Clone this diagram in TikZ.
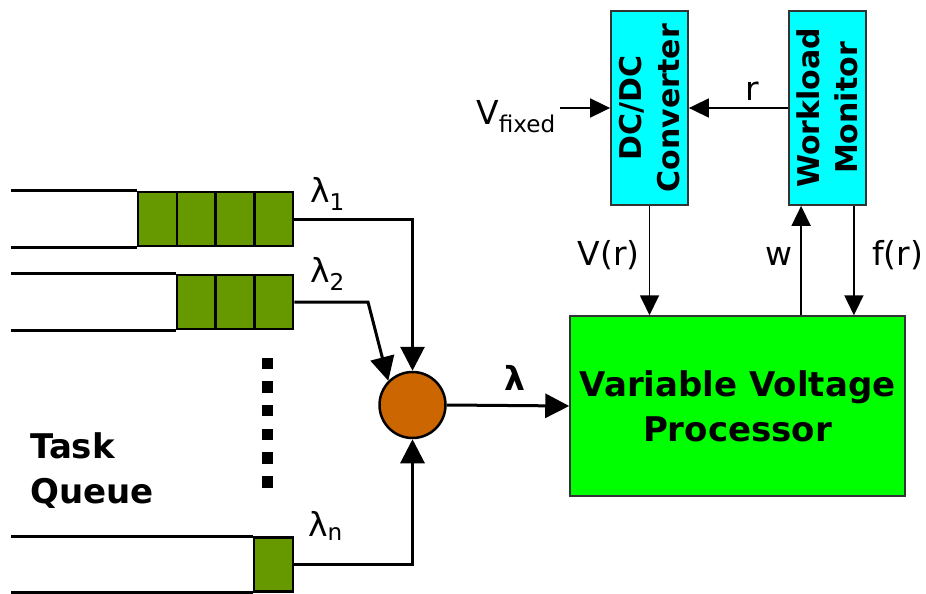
\documentclass[tikz,border=0pt]{standalone}
\usepackage{fontspec}
\setmainfont{DejaVu Sans}
\usepackage{tikz}
\usetikzlibrary{arrows.meta, positioning, calc}
\definecolor{cellgreen}{RGB}{102,153,0}
\definecolor{muxorange}{RGB}{204,102,0}
\definecolor{procgreen}{RGB}{0,255,0}
\definecolor{boxcyan}{RGB}{0,255,255}

\begin{document}
\begin{tikzpicture}[x=1pt, y=-1pt,
  cell/.style={draw, line width=2.5pt, fill=cellgreen, minimum width=38.75pt, minimum height=54pt, inner sep=0pt},
  rail/.style={line width=3pt},
  feed/.style={line width=3pt, -{Triangle[length=24pt, width=24pt]}},
  ctrl/.style={line width=1.8pt, -{Triangle[length=20pt, width=19pt]}},
  unit/.style={draw=black!80, line width=1.8pt, fill=boxcyan, minimum width=77pt, minimum height=194pt, inner sep=0pt},
  unittext/.style={rotate=90, align=center, font=\fontsize{30}{38}\selectfont\bfseries},
  lbl/.style={font=\fontsize{33}{36}\selectfont, inner sep=0pt}]
  \useasboundingbox (0,0) rectangle (926,594);

  % task queues
  \foreach \i in {1,...,4}
    \node[cell] (q1c\i) at (157.4+38.75*\i-38.75, 219) {};
  \foreach \i in {1,...,3}
    \node[cell] (q2c\i) at (196.2+38.75*\i-38.75, 302) {};
  \node[cell] (qnc1) at (273.6, 564.5) {};

  \draw[rail] (q1c1.north west) -- ++(-126,0);
  \draw[rail] (q1c1.south west) -- ++(-126,0);
  \draw[rail] (q2c1.north west) -- ++(-165,0);
  \draw[rail] (q2c1.south west) -- ++(-165,0);
  \draw[rail] (qnc1.north west) -- ++(-242,0);
  \draw[rail] (qnc1.south west) -- ++(-242,0);

  \foreach \k in {0,...,5}
    \fill (261.5,357.5+23.7*\k) rectangle ++(11.5,11.5);

  \node[font=\fontsize{34}{45}\selectfont\bfseries, align=left, anchor=base west, inner sep=0pt] (tq) at (30,503) {Task\\Queue};

  % dispatcher
  \node[circle, draw, line width=2.5pt, fill=muxorange, minimum size=66pt, inner sep=0pt] (mux) at (412.5,405) {};
  \coordinate (bend2) at (368,302);

  \draw[feed] (q1c4.east) -| (mux.north);
  \draw[feed] (q2c3.east) -- (bend2) -- (mux.north west);
  \draw[feed] (qnc1.east) -| (mux.south);
  \node[lbl, anchor=base west] (lam1) at (310,202) {λ\textsubscript{1}};
  \node[lbl, anchor=base west] (lam2) at (310,282) {λ\textsubscript{2}};
  \node[lbl, anchor=base west] (lamn) at (308,536) {λ\textsubscript{n}};

  % processor and control loop
  \node[draw=black!80, line width=1.5pt, fill=procgreen, minimum width=335pt, minimum height=180pt, align=center,
        font=\fontsize{34}{45}\selectfont\bfseries] (vvp) at (737.5,406) {Variable Voltage\\Processor};
  \draw[feed] (mux.east) -- (vvp.west);
  \node[lbl, anchor=base, font=\fontsize{33}{36}\selectfont\bfseries] (lam) at (515,390) {λ};

  \node[unit] (dcdc) at (649.5,108) {};
  \node[unittext] at (dcdc.center) {DC/DC\\Converter};
  \node[unit] (monitor) at (827.5,108) {};
  \node[unittext] at (monitor.center) {Workload\\Monitor};

  \node[lbl, anchor=base west] (vfixed) at (476,124) {V\textsubscript{fixed}};
  \coordinate (vin) at (560,108);
  \draw[ctrl] (vin) -- (dcdc.west);
  \draw[ctrl] (monitor.west) -- (dcdc.east);
  \node[lbl, anchor=base west] (rlbl) at (745,100) {r};
  \draw[ctrl] (dcdc.south) -- (dcdc.south |- vvp.north);
  \node[lbl, anchor=base east] (vr) at (640,265) {V(r)};
  \draw[ctrl] ([xshift=13pt]monitor.south west |- vvp.north) -- ([xshift=13pt]monitor.south west);
  \node[lbl, anchor=base east] (wl) at (793,265) {w};
  \draw[ctrl] ([xshift=-13pt]monitor.south east) -- ([xshift=-13pt]monitor.south east |- vvp.north);
  \node[lbl, anchor=base west] (fr) at (872,265) {f(r)};
\end{tikzpicture}
\end{document}
